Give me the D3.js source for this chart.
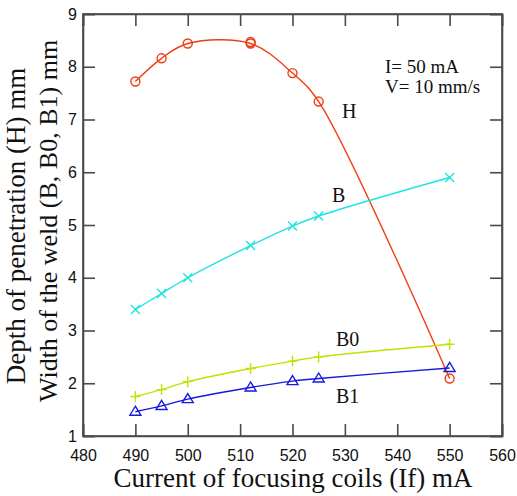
<!DOCTYPE html>
<html>
<head>
<meta charset="utf-8">
<script src="https://cdn.jsdelivr.net/npm/d3@7/dist/d3.min.js"></script>
<style>
    body { margin: 0; background: #fff; }
    .tick-label { font-family: "Liberation Sans", Arial, sans-serif; font-size: 16px; fill: #111; }
    .chart-label { font-family: "Liberation Serif", "Times New Roman", serif; fill: #111; }
</style>
</head>
<body>
<div id="chart-area"></div>
<script>
// data
var currents = [490, 495, 500, 512, 520, 525, 550];           // If, mA
var depthH   = [7.72, 8.16, 8.44, 8.44, 7.88, 7.34, 2.09];    // H, mm
var widthB   = [3.40, 3.70, 4.00, 4.61, 4.98, 5.17, 5.90];    // B, mm
var widthB0  = [1.75, 1.88, 2.03, 2.28, 2.42, 2.50, 2.74];    // B0, mm
var widthB1  = [1.46, 1.57, 1.70, 1.92, 2.04, 2.09, 2.29];    // B1, mm
var repeatH  = [[512, 8.47]];                                 // second reading at 512 mA
var xTicks = [480, 490, 500, 510, 520, 530, 540, 550, 560];
var yTicks = [1, 2, 3, 4, 5, 6, 7, 8, 9];

var margin = { left: 83, right: 15, top: 14, bottom: 60 };
var width = 517 - margin.left - margin.right,
    height = 496 - margin.top - margin.bottom;

var svg = d3.select('#chart-area')
    .append('svg')
        .attr('width', 517)
        .attr('height', 496);

var g = svg.append('g')
    .attr('transform', 'translate(' + margin.left + ',' + margin.top + ')');

// scales
var xScale = d3.scaleLinear().domain([480, 560]).range([0, width]);
var yScale = d3.scaleLinear().domain([1, 9]).range([height, 0]);

// axes: ticks point inward on all four sides
var tickLen = 12;
var axisColor = '#4a4a4a';

var xAxisBottom = d3.axisBottom(xScale).tickValues(xTicks).tickSize(-tickLen).tickPadding(22);
var xAxisTop = d3.axisTop(xScale).tickValues(xTicks).tickSize(-tickLen).tickFormat('');
var yAxisLeft = d3.axisLeft(yScale).tickValues(yTicks).tickSize(-tickLen).tickPadding(6);
var yAxisRight = d3.axisRight(yScale).tickValues(yTicks).tickSize(-tickLen).tickFormat('');

var xAxisGroup = g.append('g').attr('transform', 'translate(0,' + height + ')').call(xAxisBottom);
var xTopGroup = g.append('g').call(xAxisTop);
var yAxisGroup = g.append('g').call(yAxisLeft);
var yRightGroup = g.append('g').attr('transform', 'translate(' + width + ',0)').call(yAxisRight);

[xAxisGroup, xTopGroup, yAxisGroup, yRightGroup].forEach(function(ax) {
    ax.select('.domain').attr('stroke', axisColor).attr('stroke-width', 1.6);
    ax.selectAll('.tick line').attr('stroke', axisColor).attr('stroke-width', 1.6);
    ax.selectAll('.tick text').attr('class', 'tick-label').attr('fill', '#111');
});
xAxisGroup.selectAll('.tick text').attr('dy', '0.2em');

// frame
g.append('rect')
    .attr('width', width).attr('height', height)
    .attr('fill', 'none').attr('stroke', axisColor).attr('stroke-width', 1.6);

// series
var series = [
    { name: 'H',  values: depthH,  color: '#f03c14', marker: 'circle' },
    { name: 'B',  values: widthB,  color: '#1ee3e3', marker: 'x' },
    { name: 'B0', values: widthB0, color: '#c4df00', marker: 'plus' },
    { name: 'B1', values: widthB1, color: '#1818e0', marker: 'triangle' }
];

var markerPaths = {
    x: 'M-4.5,-4.5L4.5,4.5M-4.5,4.5L4.5,-4.5',
    plus: 'M-5,0L5,0M0,-5.5L0,5.5',
    triangle: 'M0,-5.5L5.5,3.5L-5.5,3.5Z'
};

var line = d3.line()
    .x(function(d) { return xScale(d[0]); })
    .y(function(d) { return yScale(d[1]); })
    .curve(d3.curveCatmullRom.alpha(0.5));

series.forEach(function(s) {
    var pts = currents.map(function(c, i) { return [c, s.values[i]]; });

    g.append('path')
        .datum(pts)
        .attr('fill', 'none')
        .attr('stroke', s.color)
        .attr('stroke-width', 1.4)
        .attr('d', line);

    if (s.marker === 'circle') {
        g.selectAll('.m-' + s.name)
            .data(pts.concat(repeatH))
            .enter().append('circle')
                .attr('cx', function(d) { return xScale(d[0]); })
                .attr('cy', function(d) { return yScale(d[1]); })
                .attr('r', 4.5)
                .attr('fill', 'none')
                .attr('stroke', s.color)
                .attr('stroke-width', 1.4);
    } else {
        g.selectAll('.m-' + s.name)
            .data(pts)
            .enter().append('path')
                .attr('transform', function(d) { return 'translate(' + xScale(d[0]) + ',' + yScale(d[1]) + ')'; })
                .attr('d', markerPaths[s.marker])
                .attr('fill', 'none')
                .attr('stroke', s.color)
                .attr('stroke-width', 1.4);
    }
});

// curve labels
var curveLabels = [
    { text: 'H',  x: 259, y: 104 },
    { text: 'B',  x: 249, y: 188 },
    { text: 'B0', x: 253, y: 332 },
    { text: 'B1', x: 253, y: 389 }
];
curveLabels.forEach(function(l) {
    g.append('text').attr('class', 'chart-label').attr('x', l.x).attr('y', l.y)
        .style('font-size', '20px').text(l.text);
});

// conditions
g.append('text').attr('class', 'chart-label').attr('x', 302).attr('y', 59)
    .style('font-size', '19px').text('I= 50 mA');
g.append('text').attr('class', 'chart-label').attr('x', 302).attr('y', 79)
    .style('font-size', '19px').text('V= 10 mm/s');

// axis titles
svg.append('text').attr('class', 'chart-label')
    .attr('x', 293).attr('y', 487).attr('text-anchor', 'middle')
    .style('font-size', '27px').text('Current of focusing coils (If) mA');

svg.append('text').attr('class', 'chart-label')
    .attr('transform', 'translate(25,226) rotate(-90)').attr('text-anchor', 'middle')
    .style('font-size', '27px').text('Depth of penetration (H) mm');
svg.append('text').attr('class', 'chart-label')
    .attr('transform', 'translate(57,221) rotate(-90)').attr('text-anchor', 'middle')
    .style('font-size', '26px').text('Width of the weld (B, B0, B1) mm');
</script>
</body>
</html>
